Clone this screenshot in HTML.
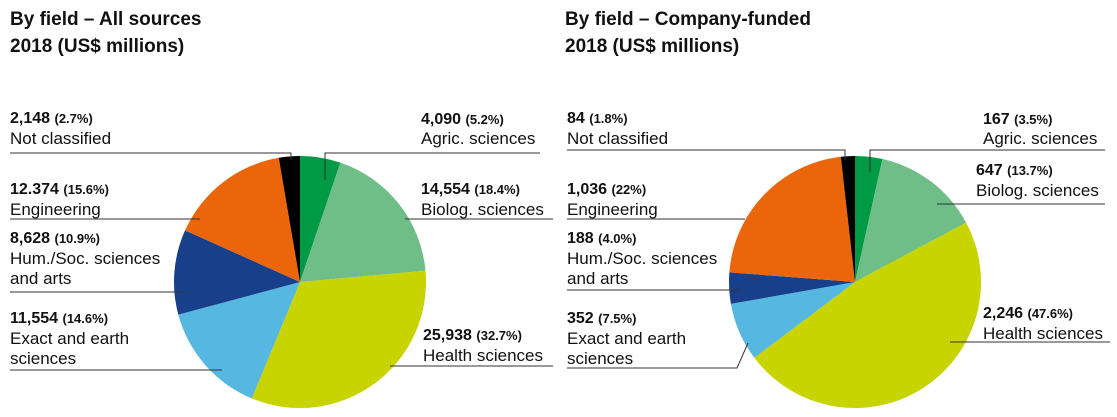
<!DOCTYPE html>
<html><head><meta charset="utf-8"><style>
html,body{margin:0;padding:0;background:#fff;}
svg{display:block;font-family:"Liberation Sans",sans-serif;}
.t{font-size:19px;font-weight:bold;fill:#111;}
.v{font-size:16px;font-weight:bold;fill:#111;}
.p{font-size:13px;font-weight:bold;}
.n{font-size:17px;fill:#111;}
line,polyline{stroke:#333;stroke-width:1;fill:none;}
</style></head><body>
<svg id="s" width="1117" height="417" viewBox="0 0 1117 417">
<text class="t" x="10" y="25">By field – All sources</text>
<text class="t" x="10" y="52">2018 (US$ millions)</text>
<text class="t" x="565" y="25">By field – Company-funded</text>
<text class="t" x="565" y="52">2018 (US$ millions)</text>
<g id="pies"></g>
<text class="v" x="10" y="123">2,148 <tspan class="p">(2.7%)</tspan></text>
<text class="n" x="10" y="144">Not classified</text>
<text class="v" x="10" y="194">12.374 <tspan class="p">(15.6%)</tspan></text>
<text class="n" x="10" y="215">Engineering</text>
<text class="v" x="10" y="243">8,628 <tspan class="p">(10.9%)</tspan></text>
<text class="n" x="10" y="264">Hum./Soc. sciences</text>
<text class="n" x="10" y="284">and arts</text>
<text class="v" x="10" y="323">11,554 <tspan class="p">(14.6%)</tspan></text>
<text class="n" x="10" y="344">Exact and earth</text>
<text class="n" x="10" y="364">sciences</text>
<text class="v" x="421" y="124">4,090 <tspan class="p">(5.2%)</tspan></text>
<text class="n" x="421" y="144">Agric. sciences</text>
<text class="v" x="421" y="194">14,554 <tspan class="p">(18.4%)</tspan></text>
<text class="n" x="421" y="215">Biolog. sciences</text>
<text class="v" x="423" y="340">25,938 <tspan class="p">(32.7%)</tspan></text>
<text class="n" x="423" y="361">Health sciences</text>
<polyline points="10,153 291,153 291,160"/>
<polyline points="540,153 325,153 325,180"/>
<line x1="10" y1="219" x2="200" y2="219"/>
<line x1="10" y1="292" x2="185" y2="292"/>
<line x1="10" y1="370" x2="222" y2="370"/>
<line x1="405" y1="219" x2="553" y2="219"/>
<line x1="390" y1="366" x2="553" y2="366"/>
<text class="v" x="567" y="123">84 <tspan class="p">(1.8%)</tspan></text>
<text class="n" x="567" y="144">Not classified</text>
<text class="v" x="567" y="194">1,036 <tspan class="p">(22%)</tspan></text>
<text class="n" x="567" y="215">Engineering</text>
<text class="v" x="567" y="243">188 <tspan class="p">(4.0%)</tspan></text>
<text class="n" x="567" y="264">Hum./Soc. sciences</text>
<text class="n" x="567" y="284">and arts</text>
<text class="v" x="567" y="323">352 <tspan class="p">(7.5%)</tspan></text>
<text class="n" x="567" y="344">Exact and earth</text>
<text class="n" x="567" y="364">sciences</text>
<text class="v" x="983" y="124">167 <tspan class="p">(3.5%)</tspan></text>
<text class="n" x="983" y="144">Agric. sciences</text>
<text class="v" x="976" y="175">647 <tspan class="p">(13.7%)</tspan></text>
<text class="n" x="976" y="196">Biolog. sciences</text>
<text class="v" x="983" y="318">2,246 <tspan class="p">(47.6%)</tspan></text>
<text class="n" x="983" y="339">Health sciences</text>
<polyline points="567,150 845,150 845,160"/>
<polyline points="1105,150 870,150 870,172"/>
<line x1="937" y1="204" x2="1105" y2="204"/>
<line x1="567" y1="219" x2="745" y2="219"/>
<line x1="567" y1="290" x2="740" y2="290"/>
<polyline points="567,368 737,368 748,343"/>
<line x1="950" y1="342" x2="1110" y2="342"/>
</svg>
<script>
var cols=["#009a44","#6fbd87","#c8d400","#56b7e1","#183f8a","#eb650b","#000"];
function pie(cx,cy,r,vals){
 var tot=vals.reduce(function(a,b){return a+b},0),a=0,s="";
 vals.forEach(function(v,i){
  var a1=a+v/tot*2*Math.PI;
  var x0=cx+r*Math.sin(a),y0=cy-r*Math.cos(a),x1=cx+r*Math.sin(a1),y1=cy-r*Math.cos(a1);
  s+='<path fill="'+cols[i]+'" d="M'+cx+','+cy+'L'+x0.toFixed(2)+','+y0.toFixed(2)+'A'+r+','+r+' 0 '+((a1-a)>Math.PI?1:0)+' 1 '+x1.toFixed(2)+','+y1.toFixed(2)+'Z"/>';
  a=a1;});
 return s;}
document.getElementById("pies").innerHTML=
 pie(300,282,126,[5.2,18.4,32.7,14.6,10.9,15.6,2.7])+
 pie(855,282,126,[3.5,13.7,47.6,7.5,4.0,22,1.8]);
</script>
</body></html>
